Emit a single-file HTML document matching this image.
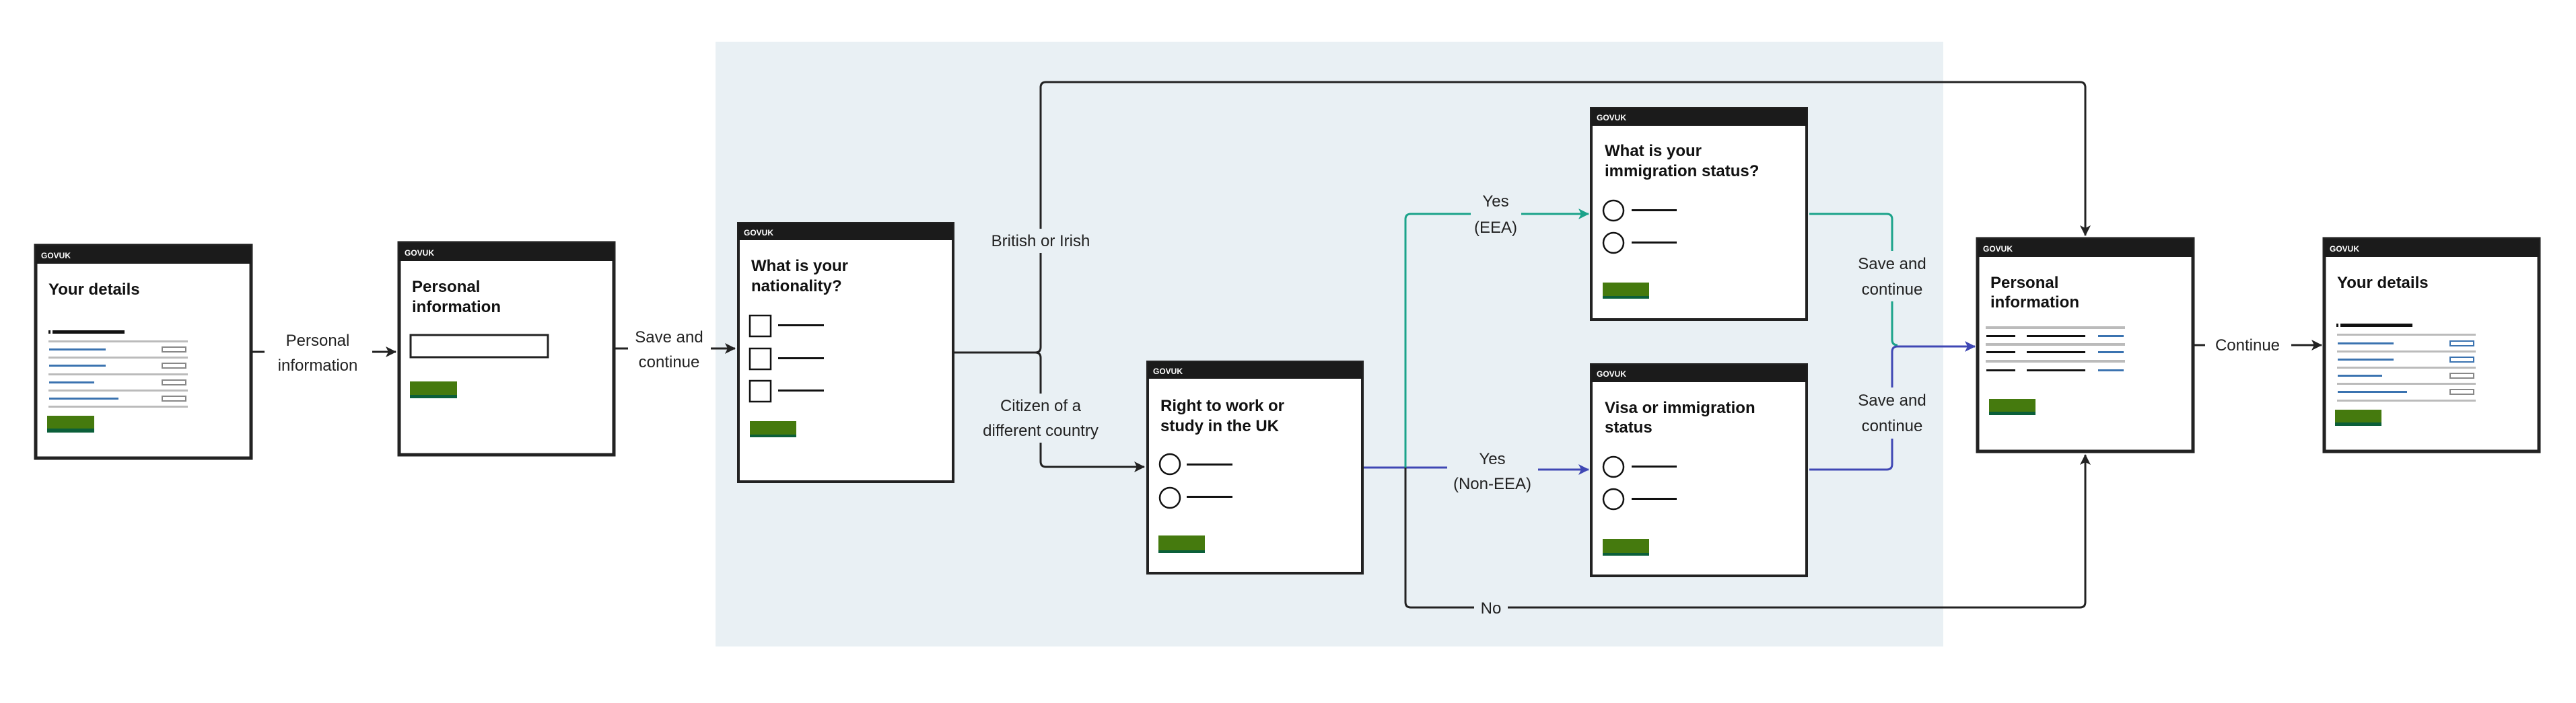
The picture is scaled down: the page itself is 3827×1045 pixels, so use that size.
<!DOCTYPE html>
<html><head><meta charset="utf-8"><style>
html,body{margin:0;padding:0;background:#fff}
svg{display:block}
text{font-family:"Liberation Sans",sans-serif}
.lbl{font-size:24px;fill:#222;text-anchor:middle}
.ttl{font-size:24px;font-weight:bold;fill:#111}
.gov{font-size:12px;font-weight:bold;fill:#fff}
</style></head><body>
<svg width="3827" height="1045" viewBox="0 0 3827 1045" xmlns="http://www.w3.org/2000/svg">
<defs>
<marker id="at" markerWidth="16" markerHeight="16" refX="15" refY="8" orient="auto" markerUnits="userSpaceOnUse"><path d="M0,0 L16,8 L0,16 L4,8 Z" fill="#1ba38a"/></marker>
<marker id="ab" markerWidth="16" markerHeight="16" refX="15" refY="8" orient="auto" markerUnits="userSpaceOnUse"><path d="M0,0 L16,8 L0,16 L4,8 Z" fill="#3f47b4"/></marker>
<marker id="ak2" markerWidth="16" markerHeight="16" refX="15" refY="8" orient="auto" markerUnits="userSpaceOnUse"><path d="M0,0 L16,8 L0,16 L4,8 Z" fill="#222"/></marker>
</defs>
<rect x="1063" y="62" width="1824" height="899" fill="#e9f0f4"/>

<!-- connectors -->
<g fill="none" stroke-width="3">
<path d="M375 523 H393" stroke="#222"/>
<path d="M553 523 H588" stroke="#222" marker-end="url(#ak2)"/>
<path d="M914 518 H933" stroke="#222"/>
<path d="M1056 518 H1092" stroke="#222" marker-end="url(#ak2)"/>
<path d="M1418 524 H1538 Q1546 524 1546 516 V376 M1546 340 V130 Q1546 122 1554 122 H3090 Q3098 122 3098 130 V350" stroke="#222" marker-end="url(#ak2)"/>
<path d="M1538 524 Q1546 524 1546 532 V585 M1546 658 V686 Q1546 694 1554 694 H1700" stroke="#222" marker-end="url(#ak2)"/>
<path d="M2026 695 H2150 M2285 698 H2360" stroke="#3f47b4" marker-end="url(#ab)"/>
<path d="M2088 695 V326 Q2088 318 2096 318 H2185 M2260 318 H2360" stroke="#1ba38a" marker-end="url(#at)"/>
<path d="M2088 695 V895 Q2088 903 2096 903 H2190 M2240 903 H3090 Q3098 903 3098 895 V676" stroke="#222" marker-end="url(#ak2)"/>
<path d="M2688 318 H2803 Q2811 318 2811 326 V373 M2811 448 V505 Q2811 513 2819 513" stroke="#1ba38a"/>
<path d="M2688 698 H2803 Q2811 698 2811 690 V652 M2811 576 V523 Q2811 515 2819 515 H2934" stroke="#3f47b4" marker-end="url(#ab)"/>
<path d="M3260 513 H3276" stroke="#222"/>
<path d="M3404 513 H3449" stroke="#222" marker-end="url(#ak2)"/>
</g>
<text class="lbl" x="472" y="514">Personal</text><text class="lbl" x="472" y="551">information</text>
<text class="lbl" x="994" y="509">Save and</text><text class="lbl" x="994" y="546">continue</text>
<text class="lbl" x="1546" y="366">British or Irish</text>
<text class="lbl" x="1546" y="611">Citizen of a</text><text class="lbl" x="1546" y="648">different country</text>
<text class="lbl" x="2222" y="307">Yes</text><text class="lbl" x="2222" y="346">(EEA)</text>
<text class="lbl" x="2217" y="690">Yes</text><text class="lbl" x="2217" y="727">(Non-EEA)</text>
<text class="lbl" x="2215" y="912">No</text>
<text class="lbl" x="2811" y="400">Save and</text><text class="lbl" x="2811" y="438">continue</text>
<text class="lbl" x="2811" y="603">Save and</text><text class="lbl" x="2811" y="641">continue</text>
<text class="lbl" x="3339" y="521">Continue</text>

<!-- Box1 Your details -->
<g>
<rect x="53" y="365" width="320" height="316" fill="#fff" stroke="#222" stroke-width="5"/>
<rect x="53" y="365" width="320" height="27" fill="#1b1b1b"/>
<text class="gov" x="61" y="384">GOVUK</text>
<text class="ttl" x="72" y="438">Your details</text>
<rect x="72" y="491" width="3" height="5" fill="#111"/><rect x="78" y="491" width="107" height="5" fill="#111"/>
<g fill="#bbb"><rect x="72" y="506" width="207" height="3"/><rect x="72" y="530" width="207" height="3"/><rect x="72" y="555" width="207" height="3"/><rect x="72" y="579" width="207" height="3"/><rect x="72" y="603" width="207" height="3"/></g>
<g fill="#3b73b0"><rect x="73" y="518" width="84" height="3"/><rect x="73" y="542" width="84" height="3"/><rect x="73" y="567" width="67" height="3"/><rect x="73" y="591" width="103" height="3"/></g>
<g fill="none" stroke="#888" stroke-width="2"><rect x="241" y="516" width="35" height="7"/><rect x="241" y="540" width="35" height="7"/><rect x="241" y="565" width="35" height="7"/><rect x="241" y="589" width="35" height="7"/></g>
<rect x="70" y="618" width="70" height="25" fill="#457a0e"/><rect x="70" y="637" width="70" height="6" fill="#0b5f3a"/>
</g>

<!-- Box2 Personal information -->
<g>
<rect x="593" y="361" width="319" height="315" fill="#fff" stroke="#222" stroke-width="5"/>
<rect x="593" y="361" width="319" height="27" fill="#1b1b1b"/>
<text class="gov" x="601" y="380">GOVUK</text>
<text class="ttl" x="612" y="434">Personal</text><text class="ttl" x="612" y="464">information</text>
<rect x="610" y="498" width="204" height="33" fill="#fff" stroke="#222" stroke-width="3"/>
<rect x="609" y="567" width="70" height="25" fill="#457a0e"/><rect x="609" y="587" width="70" height="5" fill="#0b5f3a"/>
</g>

<!-- Box3 nationality -->
<g>
<rect x="1097" y="332" width="319" height="384" fill="#fff" stroke="#222" stroke-width="4"/>
<rect x="1097" y="332" width="319" height="25" fill="#1b1b1b"/>
<text class="gov" x="1105" y="350">GOVUK</text>
<text class="ttl" x="1116" y="403">What is your</text><text class="ttl" x="1116" y="433">nationality?</text>
<g fill="none" stroke="#111" stroke-width="2.5"><rect x="1114" y="469" width="31" height="31"/><rect x="1114" y="518" width="31" height="31"/><rect x="1114" y="566" width="31" height="31"/></g>
<g fill="#111"><rect x="1156" y="482" width="68" height="3"/><rect x="1156" y="531" width="68" height="3"/><rect x="1156" y="579" width="68" height="3"/></g>
<rect x="1114" y="626" width="69" height="24" fill="#457a0e"/><rect x="1114" y="646" width="69" height="4" fill="#0b5f3a"/>
</g>

<!-- Box4 right to work -->
<g>
<rect x="1705" y="538" width="319" height="314" fill="#fff" stroke="#222" stroke-width="4"/>
<rect x="1705" y="538" width="319" height="25" fill="#1b1b1b"/>
<text class="gov" x="1713" y="556">GOVUK</text>
<text class="ttl" x="1724" y="611">Right to work or</text><text class="ttl" x="1724" y="641">study in the UK</text>
<g fill="none" stroke="#111" stroke-width="2.5"><circle cx="1738" cy="690" r="15"/><circle cx="1738" cy="740" r="15"/></g>
<g fill="#111"><rect x="1763" y="689" width="68" height="3"/><rect x="1763" y="737" width="68" height="3"/></g>
<rect x="1721" y="796" width="69" height="26" fill="#457a0e"/><rect x="1721" y="818" width="69" height="4" fill="#0b5f3a"/>
</g>

<!-- Box5 immigration status -->
<g>
<rect x="2364" y="161" width="320" height="314" fill="#fff" stroke="#222" stroke-width="4"/>
<rect x="2364" y="161" width="320" height="26" fill="#1b1b1b"/>
<text class="gov" x="2372" y="179">GOVUK</text>
<text class="ttl" x="2384" y="232">What is your</text><text class="ttl" x="2384" y="262">immigration status?</text>
<g fill="none" stroke="#111" stroke-width="2.5"><circle cx="2397" cy="313" r="15"/><circle cx="2397" cy="361" r="15"/></g>
<g fill="#111"><rect x="2424" y="311" width="67" height="3"/><rect x="2424" y="359" width="67" height="3"/></g>
<rect x="2381" y="420" width="69" height="24" fill="#457a0e"/><rect x="2381" y="440" width="69" height="4" fill="#0b5f3a"/>
</g>

<!-- Box6 visa -->
<g>
<rect x="2364" y="542" width="320" height="314" fill="#fff" stroke="#222" stroke-width="4"/>
<rect x="2364" y="542" width="320" height="26" fill="#1b1b1b"/>
<text class="gov" x="2372" y="560">GOVUK</text>
<text class="ttl" x="2384" y="614">Visa or immigration</text><text class="ttl" x="2384" y="643">status</text>
<g fill="none" stroke="#111" stroke-width="2.5"><circle cx="2397" cy="694" r="15"/><circle cx="2397" cy="742" r="15"/></g>
<g fill="#111"><rect x="2424" y="692" width="67" height="3"/><rect x="2424" y="740" width="67" height="3"/></g>
<rect x="2381" y="801" width="69" height="25" fill="#457a0e"/><rect x="2381" y="822" width="69" height="4" fill="#0b5f3a"/>
</g>

<!-- Box7 Personal information (summary) -->
<g>
<rect x="2938" y="355" width="320" height="316" fill="#fff" stroke="#222" stroke-width="5"/>
<rect x="2938" y="355" width="320" height="27" fill="#1b1b1b"/>
<text class="gov" x="2946" y="374">GOVUK</text>
<text class="ttl" x="2957" y="428">Personal</text><text class="ttl" x="2957" y="457">information</text>
<g fill="#bbb"><rect x="2950" y="485" width="207" height="4"/><rect x="2950" y="510" width="207" height="4"/><rect x="2950" y="535" width="207" height="4"/></g>
<g fill="#111"><rect x="2951" y="498" width="43" height="3"/><rect x="3011" y="498" width="87" height="3"/><rect x="2951" y="522" width="43" height="3"/><rect x="3011" y="522" width="87" height="3"/><rect x="2951" y="549" width="43" height="3"/><rect x="3011" y="549" width="87" height="3"/></g>
<g fill="#3b73b0"><rect x="3117" y="498" width="38" height="3"/><rect x="3117" y="522" width="38" height="3"/><rect x="3117" y="549" width="38" height="3"/></g>
<rect x="2955" y="593" width="69" height="24" fill="#457a0e"/><rect x="2955" y="612" width="69" height="5" fill="#0b5f3a"/>
</g>

<!-- Box8 Your details -->
<g>
<rect x="3453" y="355" width="319" height="316" fill="#fff" stroke="#222" stroke-width="5"/>
<rect x="3453" y="355" width="319" height="27" fill="#1b1b1b"/>
<text class="gov" x="3461" y="374">GOVUK</text>
<text class="ttl" x="3472" y="428">Your details</text>
<rect x="3471" y="481" width="3" height="5" fill="#111"/><rect x="3477" y="481" width="107" height="5" fill="#111"/>
<g fill="#bbb"><rect x="3472" y="496" width="206" height="3"/><rect x="3472" y="521" width="206" height="3"/><rect x="3472" y="545" width="206" height="3"/><rect x="3472" y="569" width="206" height="3"/><rect x="3472" y="594" width="206" height="3"/></g>
<g fill="#3b73b0"><rect x="3473" y="509" width="83" height="3"/><rect x="3473" y="533" width="83" height="3"/><rect x="3473" y="557" width="66" height="3"/><rect x="3473" y="581" width="103" height="3"/></g>
<g fill="none" stroke-width="2"><rect x="3640" y="507" width="35" height="7" stroke="#3b73b0"/><rect x="3640" y="531" width="35" height="7" stroke="#3b73b0"/><rect x="3640" y="555" width="35" height="7" stroke="#888"/><rect x="3640" y="579" width="35" height="7" stroke="#888"/></g>
<rect x="3469" y="609" width="69" height="24" fill="#457a0e"/><rect x="3469" y="628" width="69" height="5" fill="#0b5f3a"/>
</g>
</svg>
</body></html>
